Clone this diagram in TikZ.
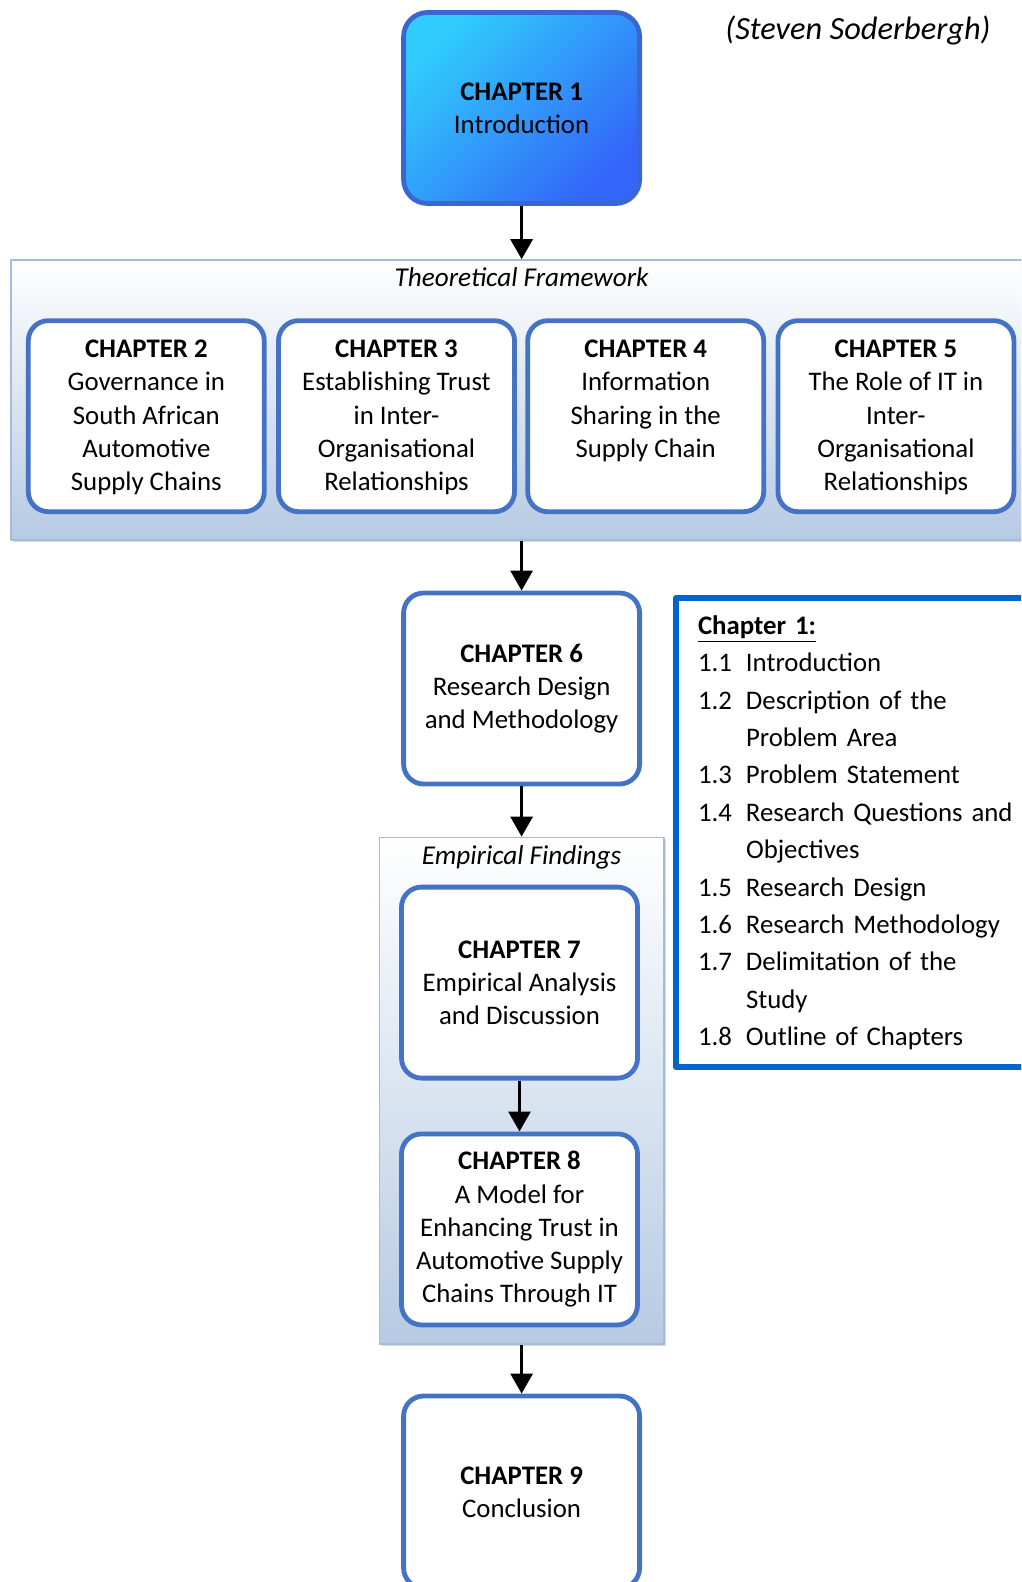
\documentclass[tikz,border=0pt]{standalone}
\usepackage{fontspec}
\setmainfont{Carlito}
\usetikzlibrary{arrows.meta,shadows}

\definecolor{chblue}{HTML}{4472C4}
\definecolor{introline}{HTML}{3A66D0}
\definecolor{introtop}{HTML}{30CCFC}
\definecolor{introbot}{HTML}{3366F8}
\definecolor{outblue}{HTML}{0066CC}
\definecolor{panelline}{HTML}{A4BCDA}
\definecolor{panelbot}{HTML}{B6CAE3}

% top aligned text in the framework boxes
\newcommand{\tftext}[1]{\parbox[c][76pt][t]{114pt}{\centering #1}}
% numbered lines of the outline
\newcommand{\secno}[1]{\makebox[24pt][l]{#1}}
\newcommand{\secind}{\hspace*{24pt}}

\tikzset{
  chbox/.style={draw=chblue, line width=2.4pt, rounded corners=10pt, fill=white,
    minimum width=118pt, minimum height=95.5pt, inner sep=0pt, align=center,
    font=\fontsize{13.4}{16.6}\selectfont},
  introfill/.style={draw=introline, rounded corners=12pt, top color=introtop,
    bottom color=introbot, shading angle=45},
  panel/.style={draw=panelline, line width=0.8pt, top color=white, bottom color=panelbot,
    drop shadow={shadow xshift=1.2pt, shadow yshift=-1.2pt, opacity=0.3}},
  paneltitle/.style={font=\fontsize{13.6}{16}\selectfont\itshape},
  outbox/.style={draw=outblue, line width=3pt, fill=white, anchor=north west,
    text width=185pt, minimum height=234.6pt, inner xsep=11pt, align=left,
    font=\fontsize{13.4}{18.7}\selectfont},
  arr/.style={line width=1.5pt, -{Triangle[width=11pt,length=10pt]}},
}

\begin{document}
\begin{tikzpicture}[x=0.5pt,y=-0.5pt,line join=round]

\useasboundingbox (0,0) rectangle (1021,1582);
\clip (0,0) rectangle (1021,1582);

% panels
\node[panel, minimum width=514.5pt, minimum height=140pt] (tf) at (525.5,400) {};
\node[panel, minimum width=142.3pt, minimum height=253.3pt] (ef) at (521.6,1090.7) {};

\node[paneltitle] (tftitle) at (521.6,277.5) {Theoretical Framework};
\node[paneltitle] (eftitle) at (521.6,857.6) {Empirical Findings};

% chapters
\node[chbox, introfill] (ch1) at (521.6,108) {\textbf{CHAPTER 1}\\Introduction};

\node[chbox] (ch2) at (146.3,416.2) {\tftext{\textbf{CHAPTER 2}\\Governance in\\South African\\Automotive\\Supply Chains}};
\node[chbox] (ch3) at (396.5,416.2) {\tftext{\textbf{CHAPTER 3}\\Establishing Trust\\in Inter-\\Organisational\\Relationships}};
\node[chbox] (ch4) at (645.7,416.2) {\tftext{\textbf{CHAPTER 4}\\Information\\Sharing in the\\Supply Chain}};
\node[chbox] (ch5) at (895.9,416.2) {\tftext{\textbf{CHAPTER 5}\\The Role of IT in\\Inter-\\Organisational\\Relationships}};

\node[chbox] (ch6) at (521.6,688.5) {\textbf{CHAPTER 6}\\Research Design\\and Methodology};
\node[chbox] (ch7) at (519.5,982.6) {\textbf{CHAPTER 7}\\Empirical Analysis\\and Discussion};
\node[chbox] (ch8) at (519.5,1229.4) {\textbf{CHAPTER 8}\\A Model for\\Enhancing Trust in\\Automotive Supply\\Chains Through IT};
\node[chbox, minimum height=96pt] (ch9) at (521.6,1492) {\textbf{CHAPTER 9}\\Conclusion};

% outline of chapter 1
\node[outbox] (outline) at (673,595.2) {%
  \underline{\textbf{Chapter 1:}}\\
  \secno{1.1}Introduction\\
  \secno{1.2}Description of the\\
  \secind Problem Area\\
  \secno{1.3}Problem Statement\\
  \secno{1.4}Research Questions and\\
  \secind Objectives\\
  \secno{1.5}Research Design\\
  \secno{1.6}Research Methodology\\
  \secno{1.7}Delimitation of the\\
  \secind Study\\
  \secno{1.8}Outline of Chapters};

\node[font=\fontsize{16.2}{19}\selectfont\itshape] (quote) at (858,30.3) {(Steven Soderbergh)};

% arrows
\draw[arr] (ch1.south) -- (ch1.south |- tf.north);
\draw[arr] (ch6.north |- tf.south) -- (ch6.north);
\draw[arr] (ch6.south) -- (ch6.south |- ef.north);
\draw[arr] (ch7.south) -- (ch8.north);
\draw[arr] (ch9.north |- ef.south) -- (ch9.north);

\end{tikzpicture}
\end{document}
